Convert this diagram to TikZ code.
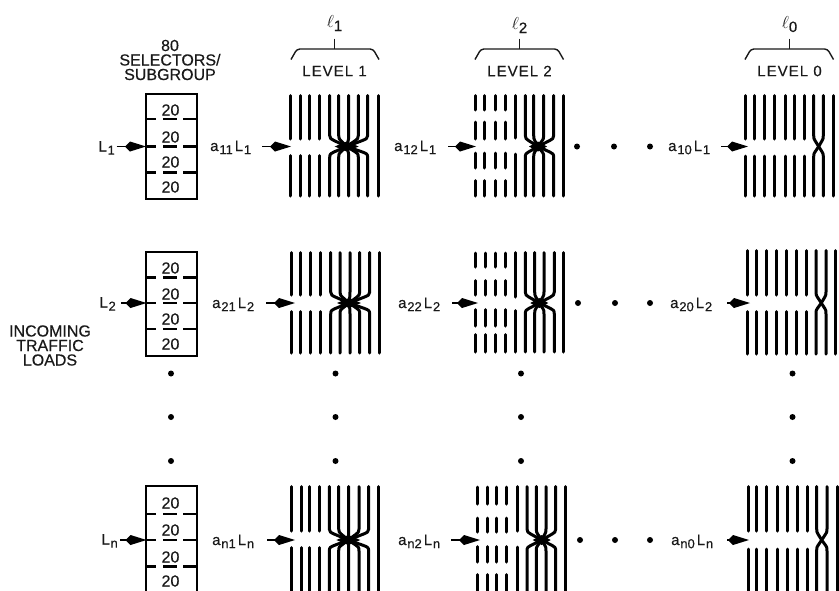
\documentclass[tikz,border=0pt]{standalone}
\usepackage{fontspec}
\setmainfont{Liberation Sans}[FakeBold=0.35]
\newfontfamily\widefont{Liberation Sans}[LetterSpace=7,FakeBold=0.35]
\usetikzlibrary{arrows.meta}
\tikzset{
  bar/.style={line width=3pt,line cap=round,black},
  rule/.style={line width=2.2pt,black},
  feed/.style={line width=1.8pt,-{Kite[length=21pt,width=10pt,inset=5pt]},black},
  txt/.style={inner sep=0pt,font=\fontsize{15}{15}\selectfont,text=black!90},
  twenty/.style={inner sep=0pt,font=\fontsize{16}{16}\selectfont,text=black!90},
  stack/.style={inner sep=0pt,align=center,font=\fontsize{16}{14.5}\selectfont,text=black!90},
  lvl/.style={inner sep=0pt,font=\fontsize{15}{15}\widefont,text=black!90},
  ell/.style={inner sep=0pt,text=black!90},
  dot/.style={circle,fill=black,inner sep=0pt,minimum size=6pt},
  brace/.style={line width=1.4pt,rounded corners=3pt,black!90},
  selbox/.style={draw=black,line width=2.2pt,inner sep=0pt,anchor=north west}
}
\newcommand\sB[1]{\raisebox{-3.2pt}{\fontsize{13}{13}\selectfont\hspace{0.8pt}#1}}
\newcommand\loadtxt[3]{a\sB{#1}\hspace{2pt}L\sB{#2}}
\newcommand\selector[6]{%
  \node[selbox,minimum width=50.5pt,minimum height={#6-#2}] (box#1) at (145,#2) {};
  \foreach \d in {#3,#4,#5}{
    \draw[rule] (145,\d) -- (156,\d) (163,\d) -- (177,\d) (183,\d) -- (195.5,\d);
  }
}
% bars: straight list, crossing list, last x, top, bottom, gap top, gap bottom, cx, my
\newcommand\levelbars[9]{%
  \foreach \x in {#1}{
    \draw[bar] (\x,#4) -- (\x,#6) (\x,#7) -- (\x,#5);
  }
  \foreach \x in {#2}{
    \draw[bar,line cap=round,line join=round] (\x,#4) -- (\x,#9-11)
      .. controls (\x,#9-8) and ({\x+(#8-\x)*0.08},#9-7.5) .. ({\x+(#8-\x)*0.25},#9-6)
      -- (#8,#9) -- ({\x+(#8-\x)*0.25},#9+5.5)
      .. controls ({\x+(#8-\x)*0.08},#9+7) and (\x,#9+7) .. (\x,#9+11) -- (\x,#5);
  }
  \draw[bar] (#3,#4) -- (#3,#5);
}
\newcommand\blob[3]{\fill[black] (#1-#3,#2) -- (#1,#2-5) -- (#1+#3,#2) -- (#1,#2+5) -- cycle;}
\newcommand\dashcols[9]{%
  \foreach \x in {#1}{
    \draw[bar] (\x,#2) -- (\x,#3) (\x,#4) -- (\x,#5) (\x,#6) -- (\x,#7) (\x,#8) -- (\x,#9);
  }
}
\newcommand\link[4]{\coordinate (s#1) at (#2,#4); \coordinate (e#1) at (#3,#4); \draw[feed] (s#1) -- (e#1);}
\begin{document}
\begin{tikzpicture}[x=1pt,y=-1pt]
\useasboundingbox (0,0) rectangle (839,590);
\clip (0,0) rectangle (839,590);
\fill[white] (0,0) rectangle (839,590);

% headers
\node[stack] (hdr) at (170,60) {80\\SELECTORS/\\SUBGROUP};
\node[stack] (inc) at (50,345.5) {INCOMING\\TRAFFIC\\LOADS};
\foreach \id/\cx/\lab/\sb/\a/\b/\ly in {
  one/334.5/LEVEL 1/1/291/379/21,
  two/519.5/LEVEL 2/2/475/563.5/23,
  zer/789.5/LEVEL 0/0/745/833.5/22}{
  \node[lvl] (lev\id) at (\cx,71) {\lab};
  \node[ell,anchor=base] (ell\id) at (\cx,\ly+6) {\fontsize{16}{16}\selectfont$\ell$\raisebox{-4pt}{\fontsize{15}{15}\selectfont\sb}};
  \coordinate (bl\id) at (\a,59.5);
  \coordinate (br\id) at (\b,59.5);
  \coordinate (st\id) at (\cx,38.5);
  \draw[brace] (bl\id) -- (\a+6,49) -- (\b-6,49) -- (br\id);
  \draw[line width=1.4pt,black!90] (st\id) -- (\cx,49);
}

% selector boxes
\selector{1}{93}{119}{146.5}{172.5}{198}
\selector{2}{251}{277.5}{303}{329}{355}
\selector{n}{485}{514}{540}{566.5}{610}
\foreach \yy [count=\i] in {110,137,162,187}{ \node[twenty] (t1\i) at (170.5,\yy) {20}; }
\foreach \yy [count=\i] in {268,294,319,344}{ \node[twenty] (t2\i) at (170.5,\yy) {20}; }
\foreach \yy [count=\i] in {503,530,557,581}{ \node[twenty] (tn\i) at (170.5,\yy) {20}; }

% incoming labels
\node[txt,anchor=base east] (L1) at (115,151.5) {L\sB{1}};
\node[txt,anchor=base east] (L2) at (116,307.5) {L\sB{2}};
\node[txt,anchor=base east] (Ln) at (118,544.5) {L\sB{n}};
\link{i1}{116.5}{146}{146.5}
\link{i2}{121}{146.5}{303}
\link{in}{120}{146.5}{540}

% load labels
\node[txt,anchor=base west] (a11) at (210,151) {\loadtxt{11}{1}{}};
\node[txt,anchor=base west] (a12) at (394,151) {\loadtxt{12}{1}{}};
\node[txt,anchor=base west] (a10) at (668,151) {\loadtxt{10}{1}{}};
\node[txt,anchor=base west] (a21) at (212,308) {\loadtxt{21}{2}{}};
\node[txt,anchor=base west] (a22) at (398,308) {\loadtxt{22}{2}{}};
\node[txt,anchor=base west] (a20) at (670,308) {\loadtxt{20}{2}{}};
\node[txt,anchor=base west] (an1) at (212,545) {\loadtxt{n1}{n}{}};
\node[txt,anchor=base west] (an2) at (398,545) {\loadtxt{n2}{n}{}};
\node[txt,anchor=base west] (an0) at (671,545) {\loadtxt{n0}{n}{}};
\link{a}{262}{291}{146.5}
\link{b}{448}{476}{146.5}
\link{c}{721}{748}{146.5}
\link{d}{266}{295}{303}
\link{e}{452}{478}{303}
\link{f}{727}{750}{303}
\link{g}{267}{295}{540}
\link{h}{451}{480}{540}
\link{k}{727}{749}{540}

% level 1
\levelbars{290.3,300,309.3,319.7}{329.7,338.7,348.7,358.3,367.7}{378.7}{95.5}{196}{139}{155.5}{346.7}{146.5}
\levelbars{291,300.7,310.7,320.7}{330.7,340,350,359.7,369.7}{379.3}{252.5}{353}{295}{311.5}{349}{303}
\levelbars{291.7,301.3,309.3,319.3}{329.3,338.7,348.7,359,368.7}{378}{486.5}{600}{531}{547.5}{348.3}{540}
\blob{346.7}{146.5}{12}\blob{349}{303}{12}\blob{348.3}{540}{12}

% level 2
\dashcols{475,484.7,495,505}{95.5}{110}{122}{139}{153}{168}{180.5}{196}
\levelbars{515.3}{525.3,533.7,543.7,553.7}{563.7}{95.5}{196}{138}{154}{538}{146.5}
\dashcols{475.5,485,495,505}{253}{267}{280.5}{295}{309.5}{326}{334.5}{352}
\levelbars{515.3}{525.3,534.7,544,554.3}{563.7}{252.5}{352}{297}{310.5}{539.3}{303}
\dashcols{477,487,496.3,506.7}{487}{504}{518}{532}{546.5}{562}{574.5}{600}
\levelbars{517.3}{527,536.3,546,555.7}{565}{486.5}{600}{531}{547}{541.7}{540}
\blob{538}{146.5}{9}\blob{539.3}{303}{9}\blob{541.7}{540}{9}

% level 0
\levelbars{745.3,754.7,764.7,774.7,785,794.3,804}{813.7,823.3}{833.3}{95.5}{196}{139}{156}{818.7}{146.5}
\levelbars{747,756.7,766,776,786.7,796.7,806.7}{816,826}{835.7}{250.5}{354}{295}{311.5}{821.3}{303}
\levelbars{748,756.7,766.7,777,787.3,797.3,807.3}{816.7,827}{837}{486.5}{600}{531}{549}{821.7}{540}

% dots
\foreach \y/\xa/\xb/\xc [count=\r] in {146.5/577/614/650,303/578/615/650,540/580/615/650}{
  \node[dot] (hd\r a) at (\xa,\y) {};
  \node[dot] (hd\r b) at (\xb,\y) {};
  \node[dot] (hd\r c) at (\xc,\y) {};
}
\foreach \x [count=\c] in {171,335.5,521,792.5}{
  \foreach \y [count=\r] in {373.5,417,461}{
    \node[dot] (vd\c\r) at (\x,\y) {};
  }
}
\end{tikzpicture}
\end{document}
